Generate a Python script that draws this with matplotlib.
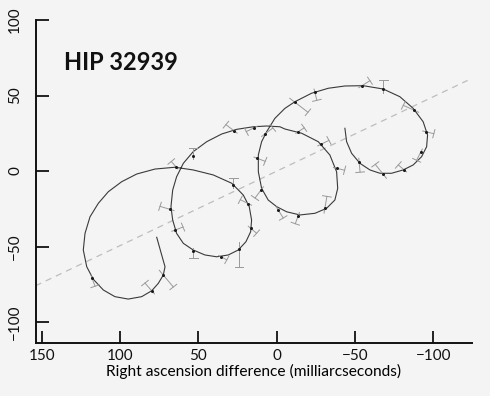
import matplotlib
matplotlib.use("Agg")
import matplotlib.pyplot as plt
import numpy as np

# star path (mas)
path_x = [76.6, 73.1, 71.3, 72.4, 75.6, 79.8, 86.2, 94.8, 103.3, 110.7, 117.1, 121.3,
          123.5, 122.4, 119.2, 113.9, 107.5, 99.0, 89.4, 77.7, 64.9, 53.3, 40.5, 28.7,
          21.3, 17.5, 16.0, 16.6, 19.6, 24.5, 30.9, 38.3, 45.8, 53.3, 59.6, 63.9, 66.4,
          67.5, 66.4, 63.9, 59.6, 53.3, 44.7, 35.1, 25.5, 14.9, 6.4, -2.1, -5.3, -16.0,
          -26.6, -34.0, -38.3, -39.0, -37.2, -31.9, -24.5, -14.9, -6.4, 0.0, 5.4, 9.6,
          11.7, 11.7, 9.6, 6.4, 1.1, -5.3, -11.7, -22.3, -33.0, -43.6, -55.3, -68.1,
          -78.7, -87.2, -93.6, -96.4, -95.8, -92.6, -87.2, -80.8, -73.4, -66.0, -59.6,
          -53.2, -47.9, -44.7, -43.6]
path_y = [-43.9, -56.8, -63.4, -68.9, -74.4, -79.3, -83.2, -84.8, -83.2, -78.8, -71.7,
          -63.4, -52.3, -41.3, -30.3, -21.4, -13.7, -7.1, -2.0, 1.3, 2.5, 0.7, -2.6, -8.1,
          -15.9, -23.6, -32.5, -40.2, -46.8, -52.3, -55.6, -56.8, -55.6, -52.3, -47.9,
          -41.3, -32.5, -23.6, -12.6, -3.8, 5.1, 12.8, 19.4, 24.5, 27.6, 29.3, 29.8, 29.3,
          27.8, 25.0, 19.4, 10.6, -0.5, -11.5, -19.2, -24.7, -28.0, -29.1, -27.0, -23.6,
          -19.2, -11.5, -0.5, 10.6, 19.4, 26.0, 34.9, 41.5, 45.9, 51.5, 54.8, 56.3, 56.5,
          54.3, 49.2, 41.5, 32.6, 23.8, 16.1, 9.5, 4.0, 0.7, -1.5, -1.5, 0.7, 5.1, 11.7,
          19.4, 28.3]

# proper motion line
pm_x = [154, -122]
pm_y = [-76, 60]

# observations: position on the path and offset of the residual tip
obs_x = [72.4, 79.8, 117.9, 64.3, 68.1, 64.9, 53.2, 35.6, 24.1, 16.6, 18.1, 27.7,
         53.3, 27.3, 7.5, 14.3, 12.4, 10.0, -1.0, -13.8, -30.8, -38.3, -28.3, -13.8,
         -11.7, -24.4, -54.5, -68.1, -87.9, -95.3, -92.0, -81.5, -68.1, -52.7]
obs_y = [-68.9, -79.3, -71.0, 2.8, -25.4, -39.1, -53.0, -56.8, -51.9, -37.9, -21.6,
         -9.3, 9.9, 26.7, 24.5, 28.7, 8.4, -12.6, -25.8, -29.6, -24.7, 1.8, 17.7, 26.0,
         45.5, 52.1, 56.5, 54.3, 40.2, 26.0, 12.4, 0.7, -2.2, 5.8]
obs_dx = [-6.4, 4.3, -1.9, 3.0, 6.4, -5.1, 0.0, -3.8, 0.0, -3.8, 5.1, 0.0,
          0.0, 5.1, -5.1, 5.1, -5.1, 3.8, -3.2, 1.9, -1.3, -5.1, -5.1, -3.8,
          -8.3, -1.3, -5.1, 0.0, 7.0, -5.1, 2.6, 3.8, 5.1, -0.6]
obs_dy = [-7.9, 5.1, -5.3, 3.5, 2.0, 2.0, -4.6, -2.0, -11.9, -3.3, 2.6, 4.6,
          5.3, 4.0, 4.0, -2.6, -2.0, -5.3, -5.3, -5.3, 7.9, -1.3, 2.6, 2.6,
          -6.6, -5.3, 3.3, 6.0, 3.3, -1.3, -5.3, 3.3, 6.6, -6.6]

title = "HIP 32939"
xticks = [150, 100, 50, 0, -50, -100]
yticks = [100, 50, 0, -50, -100]
xlabel = "Right ascension difference (milliarcseconds)"

plt.rcParams['font.family'] = ['Lato', 'DejaVu Sans']

fig = plt.figure(figsize=(4.9, 3.96), dpi=100)
fig.patch.set_facecolor('#f4f4f4')
ax = fig.add_axes([0.0735, 0.1338, 0.8895, 0.8157])
ax.set_facecolor('#f4f4f4')

ax.plot(pm_x, pm_y, color='#bdbdbd', lw=0.9, dashes=(5, 4))
ax.plot(path_x, path_y, color='#3a3a3a', lw=0.8)

# residual ticks: stem through the path point with a small bar at the tip
for x0, y0, dx, dy in zip(obs_x, obs_y, obs_dx, obs_dy):
    tx, ty = x0 + dx, y0 + dy
    ax.plot([x0 - 0.4 * dx, tx], [y0 - 0.4 * dy, ty], color='#999999', lw=0.7)
    n = np.hypot(dx, dy)
    px, py = -dy / n * 2.8, dx / n * 2.8
    ax.plot([tx - px, tx + px], [ty - py, ty + py], color='#999999', lw=0.7)
ax.plot(obs_x, obs_y, 'o', color='#1a1a1a', ms=2.2, mew=0)

ax.set_xlim(153.7, -124.7)
ax.set_ylim(-113.9, 100)
ax.set_xticks(xticks)
ax.set_yticks(yticks)
ax.set_xticklabels([str(t).replace('-', '\u2212') for t in xticks])
ax.set_yticklabels([str(t).replace('-', '\u2212') for t in yticks],
                   rotation=90, va='center')
ax.tick_params(direction='in', length=9, width=1.3, labelsize=11, colors='#111111')
ax.tick_params(axis='x', pad=4)
ax.tick_params(axis='y', pad=10)
for s in ['top', 'right']:
    ax.spines[s].set_visible(False)
for s in ['left', 'bottom']:
    ax.spines[s].set_linewidth(1.4)
    ax.spines[s].set_color('#111111')

ax.set_xlabel(xlabel, fontsize=11.2, labelpad=1)
ax.text(0.064, 0.867, title, transform=ax.transAxes, ha='left', va='center',
        fontsize=17, fontweight='bold', color='#111111')

fig.savefig('out.png', dpi=100, facecolor=fig.get_facecolor())
